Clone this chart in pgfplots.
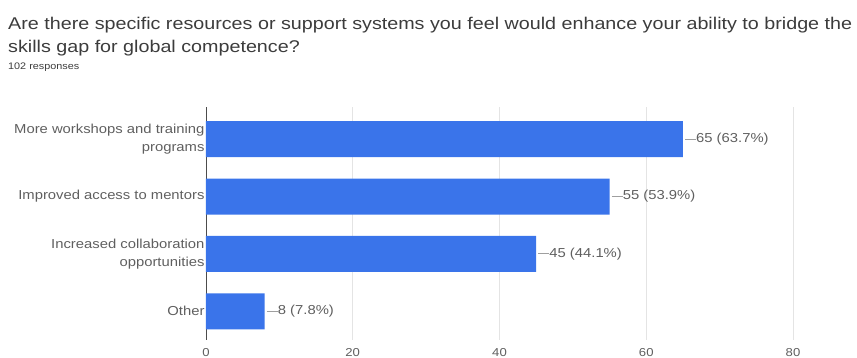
\documentclass[border=0pt]{standalone}
\usepackage{pgfplots}
\pgfplotsset{compat=1.18}
\usepackage{pgfplotstable}
\usepackage{fontspec}
\setmainfont{Liberation Sans}
\newfontfamily\widefont[FakeStretch=1.16]{Liberation Sans}
\newfontfamily\labfont[FakeStretch=1.14]{Liberation Sans}
\definecolor{barblue}{RGB}{58,116,234}
\definecolor{titlegray}{RGB}{60,60,60}
\definecolor{labgray}{RGB}{95,95,95}
\definecolor{gridgray}{RGB}{228,228,228}
\pgfplotstableread[col sep=comma]{
y,val,lab
0,65,65 (63.7\%)
1,55,55 (53.9\%)
2,45,45 (44.1\%)
3,8,8 (7.8\%)
}\datatab
\begin{document}
\begin{tikzpicture}
\path[use as bounding box] (0pt,0pt) rectangle (857pt,-358pt);
\node[anchor=base west,inner sep=0,text=titlegray,font=\widefont\fontsize{17}{20}\selectfont] at (8pt,-30pt) {Are there specific resources or support systems you feel would enhance your ability to bridge the};
\node[anchor=base west,inner sep=0,text=titlegray,font=\widefont\fontsize{17}{20}\selectfont] at (8pt,-53pt) {skills gap for global competence?};
\node[anchor=base west,inner sep=0,text=titlegray,font=\labfont\fontsize{9.5}{10}\selectfont] at (8pt,-70pt) {102 responses};
\begin{axis}[
  at={(206pt,-340pt)}, anchor=south west,
  scale only axis, width=587pt, height=233pt,
  xbar, bar width=36pt,
  xmin=0, xmax=80,
  ymin=-0.56, ymax=3.5,
  y dir=reverse,
  xtick={0,20,40,60,80},
  ytick={0,1,2,3},
  yticklabels={{More workshops and training\\programs},{Improved access to mentors},{Increased collaboration\\opportunities},{Other}},
  yticklabel style={align=right,font=\labfont\fontsize{13}{18}\selectfont,text=labgray,xshift=2pt},
  xticklabel style={font=\labfont\fontsize{11.5}{13}\selectfont,text=labgray,yshift=-5pt},
  /pgf/number format/assume math mode=true,
  xmajorgrids, grid style={gridgray,line width=0.8pt},
  axis x line*=bottom,
  axis y line*=left,
  x axis line style={draw=none},
  y axis line style={draw=labgray!80!black,line width=0.8pt,-},
  major tick length=0pt,
  tick style={draw=none},
  clip=false,
  nodes near coords,
  point meta=explicit symbolic,
  every node near coord/.append style={font=\labfont\fontsize{13}{15}\selectfont,text=labgray,anchor=west,inner sep=0pt,xshift=2pt},
  nodes near coords={\textcolor{labgray!60}{\rule[0.5ex]{11pt}{0.5pt}}\pgfplotspointmeta},
]
\addplot[fill=barblue,draw=none] table[x=val,y=y,meta=lab] {\datatab};
\end{axis}
\end{tikzpicture}
\end{document}
